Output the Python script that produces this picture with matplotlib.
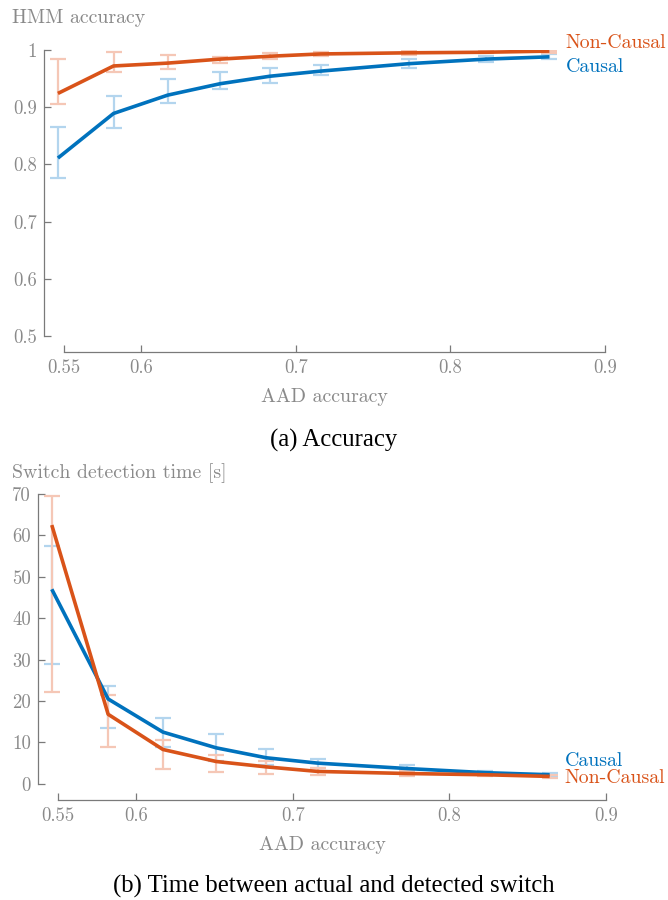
import matplotlib
matplotlib.use("Agg")
import matplotlib.pyplot as plt
import numpy as np

# AAD accuracy levels (x positions of the simulated operating points)
aad_acc = [0.546, 0.582, 0.617, 0.651, 0.683, 0.716, 0.773, 0.823, 0.864]

# HMM accuracy: mean and error-bar bounds
hmm_causal = [0.811, 0.889, 0.921, 0.941, 0.954, 0.963, 0.976, 0.984, 0.988]
hmm_causal_lo = [0.777, 0.864, 0.907, 0.932, 0.943, 0.956, 0.969, 0.979, 0.984]
hmm_causal_hi = [0.865, 0.920, 0.950, 0.961, 0.968, 0.974, 0.984, 0.990, 0.993]
hmm_noncausal = [0.924, 0.972, 0.977, 0.984, 0.989, 0.993, 0.995, 0.996, 0.998]
hmm_noncausal_lo = [0.906, 0.961, 0.967, 0.978, 0.985, 0.989, 0.992, 0.994, 0.995]
hmm_noncausal_hi = [0.984, 0.996, 0.992, 0.988, 0.995, 0.997, 0.998, 0.998, 0.999]

# Switch detection time [s]: mean and error-bar bounds
sdt_causal = [47.0, 20.5, 12.5, 8.7, 6.3, 5.0, 3.7, 2.7, 2.2]
sdt_causal_lo = [29.0, 13.5, 9.0, 5.5, 4.5, 3.8, 2.8, 2.1, 1.6]
sdt_causal_hi = [57.5, 23.7, 16.0, 12.0, 8.3, 6.1, 4.5, 3.0, 2.6]
sdt_noncausal = [62.5, 16.8, 8.3, 5.4, 4.1, 3.0, 2.5, 2.2, 1.8]
sdt_noncausal_lo = [22.3, 8.8, 3.5, 2.9, 2.4, 2.1, 2.0, 2.0, 1.4]
sdt_noncausal_hi = [69.5, 21.5, 10.6, 6.9, 5.6, 3.8, 3.0, 2.6, 2.1]

x_ticks = [0.55, 0.6, 0.7, 0.8, 0.9]
x_tick_labels = ["0.55", "0.6", "0.7", "0.8", "0.9"]
acc_ticks = [0.5, 0.6, 0.7, 0.8, 0.9, 1.0]
acc_tick_labels = ["0.5", "0.6", "0.7", "0.8", "0.9", "1"]
time_ticks = [0, 10, 20, 30, 40, 50, 60, 70]
time_tick_labels = [str(t) for t in time_ticks]

BLUE = "#0072BD"
ORANGE = "#D95319"
BLUE_LIGHT = "#B3D5EE"
ORANGE_LIGHT = "#F5C7B6"
GRAY = "#8A8A8A"
AXGRAY = "#7A7A7A"

CM = "cmr10"
LABEL_SIZE = 14.3
plt.rcParams["axes.formatter.use_mathtext"] = True

fig = plt.figure(figsize=(6.68, 9.0), dpi=100)


def style_axes(ax, xlim, ylim, ybounds, yticks, ylabels):
    ax.set_xlim(*xlim)
    ax.set_ylim(*ylim)
    for s in ("top", "right"):
        ax.spines[s].set_visible(False)
    ax.spines["bottom"].set_bounds(0.55, 0.9)
    ax.spines["left"].set_bounds(*ybounds)
    for s in ("bottom", "left"):
        ax.spines[s].set_color(AXGRAY)
        ax.spines[s].set_linewidth(0.9)
    ax.set_xticks(x_ticks)
    ax.set_xticklabels(x_tick_labels)
    ax.set_yticks(yticks)
    ax.set_yticklabels(ylabels)
    ax.tick_params(direction="in", length=5, width=0.9, color=AXGRAY,
                   labelcolor=GRAY, labelsize=13.5, pad=5)
    for lab in ax.get_xticklabels() + ax.get_yticklabels():
        lab.set_family(CM)
    ax.set_xlabel("AAD accuracy", family=CM, color=GRAY, fontsize=LABEL_SIZE,
                  labelpad=8)
    ax.set_facecolor("none")


def draw_series(ax, y, lo, hi, color, light):
    y = np.asarray(y)
    yerr = [y - np.asarray(lo), np.asarray(hi) - y]
    ax.errorbar(aad_acc, y, yerr=yerr, fmt="none", ecolor=light,
                elinewidth=1.6, capsize=6, capthick=1.6, zorder=2)
    ax.plot(aad_acc, y, color=color, lw=2.6, zorder=3,
            solid_capstyle="butt")


# (a) HMM accuracy
ax1 = fig.add_axes([0.0659, 0.6089, 0.8398, 0.3356])
draw_series(ax1, hmm_causal, hmm_causal_lo, hmm_causal_hi, BLUE, BLUE_LIGHT)
draw_series(ax1, hmm_noncausal, hmm_noncausal_lo, hmm_noncausal_hi,
            ORANGE, ORANGE_LIGHT)
style_axes(ax1, (0.537, 0.9), (0.472, 1.0), (0.5, 1.0), acc_ticks,
           acc_tick_labels)
fig.text(0.018, 0.98, "HMM accuracy", family=CM, color=GRAY,
         fontsize=LABEL_SIZE, ha="left", va="center")
fig.text(0.8465, 0.9524, "Non-Causal", family=CM, color=ORANGE,
         fontsize=LABEL_SIZE, ha="left", va="center")
fig.text(0.8465, 0.9256, "Causal", family=CM, color=BLUE,
         fontsize=LABEL_SIZE, ha="left", va="center")
fig.text(0.5, 0.511, "(a) Accuracy", family="Liberation Serif", color="black",
         fontsize=17.8, ha="center", va="center")

# (b) Switch detection time
ax2 = fig.add_axes([0.0569, 0.1111, 0.8503, 0.34])
draw_series(ax2, sdt_causal, sdt_causal_lo, sdt_causal_hi, BLUE, BLUE_LIGHT)
draw_series(ax2, sdt_noncausal, sdt_noncausal_lo, sdt_noncausal_hi,
            ORANGE, ORANGE_LIGHT)
style_axes(ax2, (0.5372, 0.9), (-3.9, 70.0), (0, 70), time_ticks,
           time_tick_labels)
fig.text(0.018, 0.474, "Switch detection time [s]", family=CM, color=GRAY,
         fontsize=LABEL_SIZE, ha="left", va="center")
fig.text(0.8455, 0.1544, "Causal", family=CM, color=BLUE,
         fontsize=LABEL_SIZE, ha="left", va="center")
fig.text(0.8455, 0.1356, "Non-Causal", family=CM, color=ORANGE,
         fontsize=LABEL_SIZE, ha="left", va="center")
fig.text(0.5, 0.0156, "(b) Time between actual and detected switch",
         family="Liberation Serif", color="black", fontsize=17.8,
         ha="center", va="center")

fig.savefig("out.png", dpi=100)
